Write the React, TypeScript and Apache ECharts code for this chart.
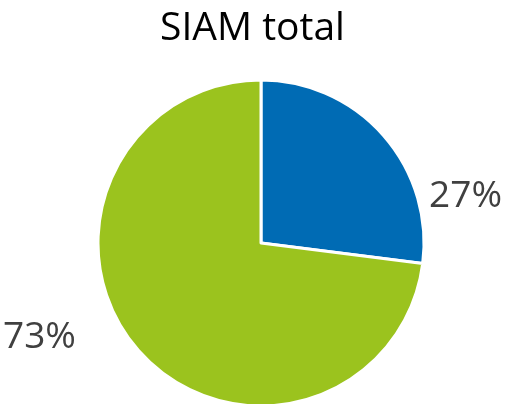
import React, { useEffect, useRef } from "react";
import * as echarts from "echarts";

const titleText = "SIAM total";
const categories = ["A", "B"];
const values = [27, 73];
const colors = ["#006BB4", "#9BC31E"];

export default function App() {
  const ref = useRef<HTMLDivElement>(null);
  useEffect(() => {
    if (!ref.current) return;
    const chart = echarts.init(ref.current, undefined, { renderer: "svg" });
    chart.setOption({
      animation: false,
      title: {
        text: titleText,
        left: "center",
        top: 0,
        padding: [2, 5, 5, 5],
        textStyle: { fontFamily: "Open Sans", fontSize: 39, lineHeight: 44, fontWeight: "normal", color: "#000" },
      },
      series: [
        {
          type: "pie",
          center: [261, 243],
          radius: [0, 163],
          startAngle: 90,
          clockwise: true,
          data: categories.map((c, i) => ({ name: c, value: values[i], itemStyle: { color: colors[i] } })),
          itemStyle: { borderColor: "#fff", borderWidth: 3 },
          label: {
            show: true,
            position: "outside",
            formatter: (p: any) => p.value + "%",
            fontFamily: "Open Sans",
            fontSize: 37,
            color: "#404040",
            alignTo: "edge",
            edgeDistance: 3,
          },
          labelLine: { show: false, length: 10, length2: 0 },
          labelLayout: (p: any) => ({ dy: p.dataIndex === 0 ? 64 : -24 }),
        },
      ],
    });
    return () => chart.dispose();
  }, []);
  return <div ref={ref} style={{ position: "fixed", left: 0, top: 0, width: 505, height: 404 }} />;
}
